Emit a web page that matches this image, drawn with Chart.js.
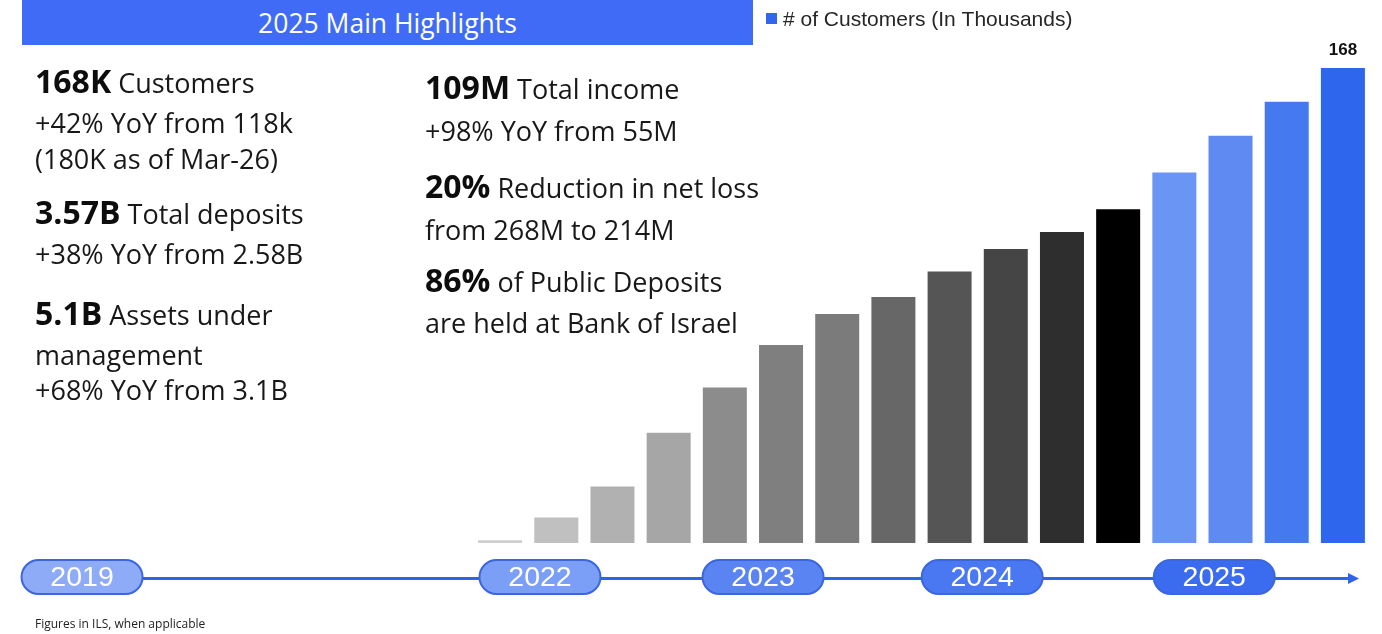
<!DOCTYPE html>
<html>
<head>
<meta charset="utf-8">
<title>2025 Main Highlights</title>
<script src="https://cdn.jsdelivr.net/npm/chart.js@4.4.1/dist/chart.umd.min.js"></script>
<style>
  html, body { margin: 0; padding: 0; background: #fff; width: 1382px; height: 634px; overflow: hidden; }
  #wrap { position: relative; width: 1382px; height: 634px; }
  #chart { position: absolute; left: 0; top: 0; }
  .title {
    position: absolute; left: 22px; top: 0; width: 731px; height: 45px;
    background: #3f6bf6; color: #fff; font: 26.5px "Open Sans", sans-serif;
    display: flex; align-items: center; justify-content: center;
  }
  .ln {
    position: absolute; white-space: nowrap; font-family: "Open Sans", sans-serif;
    font-size: 27px; line-height: 1; color: #181818;
  }
  .ln b { font-size: 32px; font-weight: 700; color: #0d0d0d; }
  .note {
    position: absolute; left: 35px; top: 615px; font: 12px "Open Sans", sans-serif; color: #222;
    white-space: nowrap;
  }
</style>
</head>
<body>
<div id="wrap">
  <canvas id="chart" width="1382" height="634"></canvas>
  <div class="title">2025 Main Highlights</div>

  <div class="ln" style="left:35px;top:65px"><b>168K</b> Customers</div>
  <div class="ln" style="left:35px;top:109px">+42% YoY from 118k</div>
  <div class="ln" style="left:35px;top:145px">(180K as of Mar-26)</div>
  <div class="ln" style="left:35px;top:196px"><b>3.57B</b> Total deposits</div>
  <div class="ln" style="left:35px;top:240px">+38% YoY from 2.58B</div>
  <div class="ln" style="left:35px;top:297px"><b>5.1B</b> Assets under</div>
  <div class="ln" style="left:35px;top:341px">management</div>
  <div class="ln" style="left:35px;top:376px">+68% YoY from 3.1B</div>

  <div class="ln" style="left:425px;top:71px"><b>109M</b> Total income</div>
  <div class="ln" style="left:425px;top:117px">+98% YoY from 55M</div>
  <div class="ln" style="left:425px;top:170px"><b>20%</b> Reduction in net loss</div>
  <div class="ln" style="left:425px;top:216px">from 268M to 214M</div>
  <div class="ln" style="left:425px;top:264px"><b>86%</b> of Public Deposits</div>
  <div class="ln" style="left:425px;top:309px">are held at Bank of Israel</div>

  <div class="note">Figures in ILS, when applicable</div>
</div>

<script>
// Quarterly customer counts, in thousands
const quarters = [
  'Q1-22', 'Q2-22', 'Q3-22', 'Q4-22',
  'Q1-23', 'Q2-23', 'Q3-23', 'Q4-23',
  'Q1-24', 'Q2-24', 'Q3-24', 'Q4-24',
  'Q1-25', 'Q2-25', 'Q3-25', 'Q4-25'
];
const customers = [1, 9, 20, 39, 55, 70, 81, 87, 96, 104, 110, 118, 131, 144, 156, 168];
const seriesName = '# of Customers (In Thousands)';
// Only the latest quarter carries a value label
const labelledBars = [15];
// Timeline years
const years = ['2019', '2022', '2023', '2024', '2025'];

const barColors = [
  '#cfcfcf', '#c0c0c0', '#b1b1b1', '#a6a6a6',
  '#8c8c8c', '#7f7f7f', '#7b7b7b', '#676767',
  '#555555', '#454545', '#2e2e2e', '#000000',
  '#6a95f5', '#5e8af2', '#4579f0', '#2e67ee'
];

// Timeline pill placement, in category-index units along the x scale
const pillStyle = {
  at: [-7.44, 0.71, 4.68, 8.58, 12.71],
  fill: ['#8eabf8', '#7b9ef7', '#5a84f2', '#4a78f2', '#3b6cf0'],
  width: 121, height: 34, y: 577
};

const overlay = {
  id: 'overlay',
  afterDatasetsDraw(chart) {
    const { ctx } = chart;
    const xs = chart.scales.x;
    const meta = chart.getDatasetMeta(0);
    ctx.save();

    // legend
    ctx.fillStyle = '#3366ee';
    ctx.fillRect(766, 13, 11, 11);
    ctx.fillStyle = '#262626';
    ctx.font = '21px "Liberation Sans", Arial, sans-serif';
    ctx.textBaseline = 'middle';
    ctx.textAlign = 'left';
    ctx.fillText(seriesName, 783, 20);

    // value labels
    ctx.font = 'bold 17px "Liberation Sans", Arial, sans-serif';
    ctx.fillStyle = '#111';
    ctx.textAlign = 'center';
    ctx.textBaseline = 'alphabetic';
    labelledBars.forEach(i => {
      const bar = meta.data[i];
      ctx.fillText(String(customers[i]), bar.x, bar.y - 13);
    });

    // timeline axis with arrow
    const y = pillStyle.y + 1.5;
    const x0 = xs.getPixelForValue(pillStyle.at[0]);
    const xEnd = 1359;
    ctx.strokeStyle = '#3163e8';
    ctx.lineWidth = 3;
    ctx.beginPath();
    ctx.moveTo(x0, y);
    ctx.lineTo(xEnd - 8, y);
    ctx.stroke();
    ctx.fillStyle = '#3163e8';
    ctx.beginPath();
    ctx.moveTo(xEnd, y);
    ctx.lineTo(xEnd - 11, y - 5.5);
    ctx.lineTo(xEnd - 11, y + 5.5);
    ctx.closePath();
    ctx.fill();

    // year pills
    const w = pillStyle.width, h = pillStyle.height, r = h / 2;
    years.forEach((yr, i) => {
      const cx = xs.getPixelForValue(pillStyle.at[i]);
      const left = cx - w / 2, top = pillStyle.y - h / 2;
      ctx.beginPath();
      ctx.roundRect(left, top, w, h, r);
      ctx.fillStyle = pillStyle.fill[i];
      ctx.fill();
      ctx.lineWidth = 2;
      ctx.strokeStyle = '#3a66e0';
      ctx.stroke();
      ctx.fillStyle = '#ffffff';
      ctx.font = '28.5px "Liberation Sans", Arial, sans-serif';
      ctx.textAlign = 'center';
      ctx.textBaseline = 'middle';
      ctx.fillText(yr, cx, pillStyle.y + 1);
    });

    ctx.restore();
  }
};

new Chart(document.getElementById('chart'), {
  type: 'bar',
  data: {
    labels: quarters,
    datasets: [{
      label: seriesName,
      data: customers,
      backgroundColor: barColors,
      borderWidth: 0,
      barPercentage: 0.88,
      categoryPercentage: 0.89
    }]
  },
  options: {
    responsive: false,
    animation: false,
    layout: { padding: { left: 472, right: 11, top: 34, bottom: 91 } },
    plugins: { legend: { display: false }, tooltip: { enabled: false } },
    scales: {
      x: { display: false, offset: true },
      y: { display: false, min: 0, max: 180 }
    }
  },
  plugins: [overlay]
});
</script>
</body>
</html>
